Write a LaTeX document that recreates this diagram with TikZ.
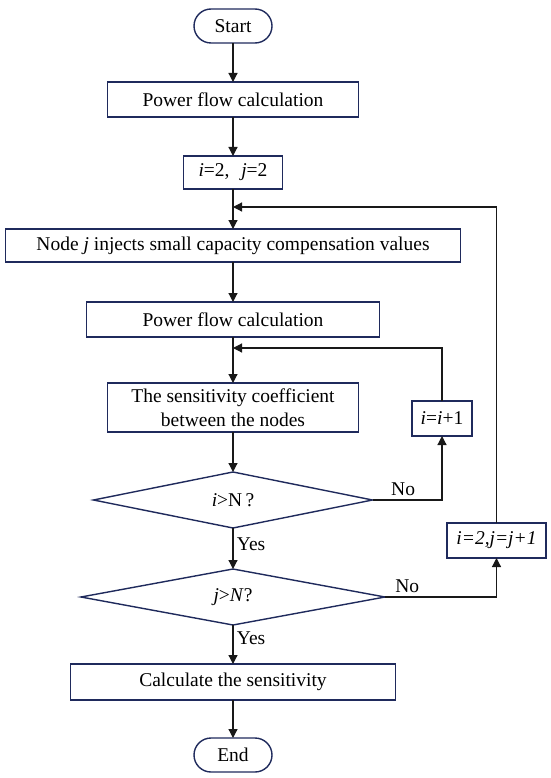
\documentclass[tikz,border=0pt]{standalone}
\usepackage{fontspec}
\setmainfont{Liberation Serif}
\usetikzlibrary{positioning, arrows.meta, shapes.geometric}
\definecolor{boxline}{HTML}{1F2A5C}

\begin{document}
\begin{tikzpicture}[
    x=1pt, y=-1pt,
    node distance=39pt,
    font=\fontsize{19.5}{23.5}\selectfont,
    block/.style={
        rectangle,
        draw=boxline,
        line width=1.4pt,
        align=center,
        inner sep=0pt,
        outer sep=0pt,
        minimum height=35pt
    },
    terminal/.style={
        block,
        rounded corners=17pt,
        minimum width=78pt,
        minimum height=34pt
    },
    decision/.style={
        diamond,
        draw=boxline,
        line width=1.4pt,
        aspect=5,
        inner sep=0pt,
        outer sep=0pt,
        minimum height=56pt
    },
    arrow/.style={
        -{Triangle[length=9pt,width=9pt]},
        line width=1.2pt,
        draw=black!90
    }
]
\useasboundingbox (0,0) rectangle (550,778);

\node[terminal] (start) at (233,26) {Start};

\node[block, minimum width=251pt, below=of start] (flow1) {Power flow calculation};

\node[block, minimum width=99pt, minimum height=33pt, below=of flow1] (init) {\textit{i}=2,\hspace{0.6em}\textit{j}=2};

\node[block, minimum width=455pt, minimum height=33pt, below=40pt of init] (inject) {Node \textit{j} injects small capacity compensation values};

\node[block, minimum width=293pt, below=40pt of inject] (flow2) {Power flow calculation};

\node[block, minimum width=251pt, minimum height=49pt, below=46pt of flow2] (coeff) {The sensitivity coefficient\\between the nodes};

\node[decision, minimum width=279pt, below=40pt of coeff] (checki) {\textit{i}>N\,?};

\node[decision, minimum width=304pt, below=41pt of checki] (checkj) {\textit{j}>\textit{N}?};

\node[block, minimum width=325pt, minimum height=36pt, below=39pt of checkj] (calc) {Calculate the sensitivity};

\node[terminal, below=38pt of calc] (end) {End};

% side boxes of the two loops
\node[block, minimum width=60pt] (inci) at (442,418.5) {\textit{i}=\textit{i}+1};
\node[block, minimum width=99pt] (incj) at (496.5,540.5) {\textit{i=2,j=j+1}};

\coordinate (loopi) at (233,348);
\coordinate (loopj) at (233,207);

\draw[arrow] (start) -- (flow1);
\draw[arrow] (flow1) -- (init);
\draw[arrow] (init) -- (inject);
\draw[arrow] (inject) -- (flow2);
\draw[arrow] (flow2) -- (coeff);
\draw[arrow] (coeff) -- (checki);
\draw[arrow] (checki) -- node[right, pos=0.39] {Yes} (checkj);
\draw[arrow] (checkj) -- node[right, pos=0.33] {Yes} (calc);
\draw[arrow] (calc) -- (end);

\draw[arrow] (checki.east) -| node[above, pos=0.22] {No} (inci.south);
\draw[arrow] (checkj.east) -| node[above, pos=0.1] {No} (incj.south);
\draw[arrow] (inci.north) |- (loopi);
\draw[arrow] (incj.north) |- (loopj);

\end{tikzpicture}
\end{document}
